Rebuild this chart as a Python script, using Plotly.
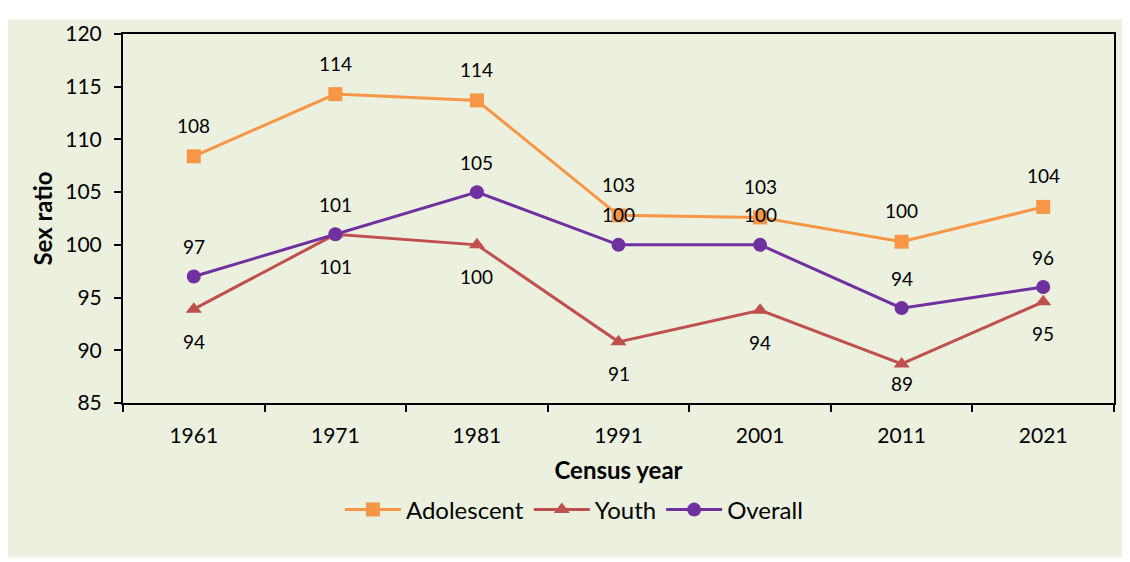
import plotly.graph_objects as go

years = ["1961", "1971", "1981", "1991", "2001", "2011", "2021"]
adolescent = [108.4, 114.3, 113.7, 102.8, 102.6, 100.3, 103.6]
youth = [93.9, 101.0, 100.0, 90.8, 93.8, 88.7, 94.6]
overall = [97.0, 101.0, 105.0, 100.0, 100.0, 94.0, 96.0]

adolescent_labels = ["108", "114", "114", "103", "103", "100", "104"]
youth_labels = ["94", "101", "100", "91", "94", "89", "95"]
overall_labels = ["97", "101", "105", "100", "100", "94", "96"]

BG = "#EBF1DE"
FONT = "Lato, Open Sans, sans-serif"
YMIN, YMAX = 85, 120
PLOT_H = 376
PX_PER_UNIT = PLOT_H / (YMAX - YMIN)

fig = go.Figure()
series = [
    ("Adolescent", adolescent, adolescent_labels, "#F79646", "square", 31),
    ("Youth", youth, youth_labels, "#C0504D", "triangle-up", -32),
    ("Overall", overall, overall_labels, "#7030A0", "circle", 30),
]
annotations = []
for name, vals, labs, color, sym, shift in series:
    fig.add_trace(go.Scatter(
        x=years, y=vals, name=name, mode="lines+markers",
        line=dict(color=color, width=3),
        marker=dict(symbol=sym, size=14, color=color),
    ))
    for i, (yv, t) in enumerate(zip(vals, labs)):
        s = shift
        if s < 0:
            # keep label inside the plot area (as the original chart does)
            s = -min(-s, (yv - YMIN) * PX_PER_UNIT - 20)
        annotations.append(dict(x=i, y=yv, xref="x", yref="y", text=t, showarrow=False,
                                yshift=s, font=dict(size=19, color="#000", family=FONT)))

fig.update_layout(
    width=1130, height=562,
    margin=dict(l=115, r=24, t=19, b=167),
    paper_bgcolor="white",
    plot_bgcolor=BG,
    font=dict(family=FONT, color="#000"),
    annotations=annotations,
    showlegend=True,
    legend=dict(orientation="h", x=0.455, xanchor="center", y=-0.29, yanchor="middle",
                font=dict(size=24), bgcolor="rgba(0,0,0,0)", itemwidth=56),
    shapes=[dict(type="rect", xref="paper", yref="paper",
                 x0=-0.117, x1=1.011, y0=-0.4176, y1=1.04,
                 fillcolor=BG, line=dict(width=0), layer="below")],
)
fig.update_xaxes(
    type="category", range=[-0.5, 6.5], autorange=False, tickson="boundaries",
    ticks="outside", ticklen=7, tickwidth=2, tickangle=0,
    tickcolor="#000", showline=True, linecolor="#000", linewidth=2, mirror=True,
    showgrid=False, tickfont=dict(size=21), ticklabelstandoff=13,
    title=dict(text="<b>Census year</b>", font=dict(size=24), standoff=16),
)
fig.update_yaxes(
    range=[YMIN, YMAX], dtick=5, ticks="outside", ticklen=7, tickwidth=2,
    tickcolor="#000", showline=True, linecolor="#000", linewidth=2, mirror=True,
    showgrid=False, zeroline=False, tickfont=dict(size=21), ticklabelstandoff=8,
    title=dict(text="<b>Sex ratio</b>", font=dict(size=24), standoff=6),
)
fig.write_html("out.html")
